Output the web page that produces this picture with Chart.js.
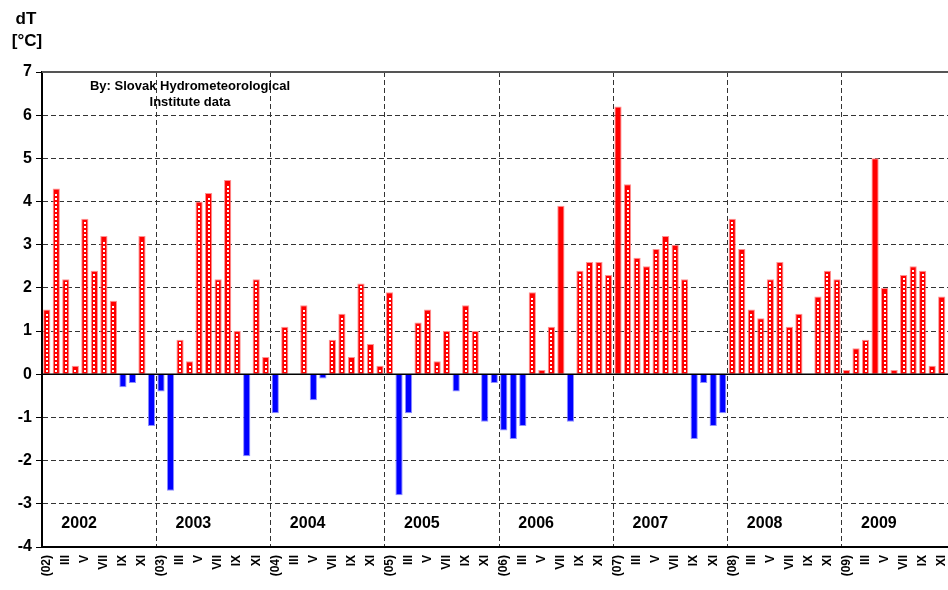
<!DOCTYPE html>
<html>
<head>
<meta charset="utf-8">
<script src="https://cdn.jsdelivr.net/npm/chart.js@4.4.1/dist/chart.umd.min.js"></script>
<style>
  html, body { margin: 0; padding: 0; background: #fff; overflow: hidden; }
  #wrap { width: 956px; height: 590px; }
</style>
</head>
<body>
<div id="wrap"><canvas id="chart" width="956" height="590"></canvas></div>
<script>
// monthly temperature deviation dT [°C], Jan..Dec
const years = [2002, 2003, 2004, 2005, 2006, 2007, 2008, 2009];
const monthLabels = ['', '', 'III', '', 'V', '', 'VII', '', 'IX', '', 'XI', ''];
const dT2002 = [1.5, 4.3, 2.2, 0.2, 3.6, 2.4, 3.2, 1.7, -0.3, -0.2, 3.2, -1.2];
const dT2003 = [-0.4, -2.7, 0.8, 0.3, 4.0, 4.2, 2.2, 4.5, 1.0, -1.9, 2.2, 0.4];
const dT2004 = [-0.9, 1.1, 0, 1.6, -0.6, -0.1, 0.8, 1.4, 0.4, 2.1, 0.7, 0.2];
const dT2005 = [1.9, -2.8, -0.9, 1.2, 1.5, 0.3, 1.0, -0.4, 1.6, 1.0, -1.1, -0.2];
const dT2006 = [-1.3, -1.5, -1.2, 1.9, 0.1, 1.1, 3.9, -1.1, 2.4, 2.6, 2.6, 2.3];
const dT2007 = [6.2, 4.4, 2.7, 2.5, 2.9, 3.2, 3.0, 2.2, -1.5, -0.2, -1.2, -0.9];
const dT2008 = [3.6, 2.9, 1.5, 1.3, 2.2, 2.6, 1.1, 1.4, 0, 1.8, 2.4, 2.2];
const dT2009 = [0.1, 0.6, 0.8, 5.0, 2.0, 0.1, 2.3, 2.5, 2.4, 0.2, 1.8, 0.8];

const values = [].concat(dT2002, dT2003, dT2004, dT2005, dT2006, dT2007, dT2008, dT2009);
const labels = [];
years.forEach(y => monthLabels.forEach((m, i) => labels.push(i === 0 ? '(' + String(y).slice(2) + ')' : m)));

// record months drawn without the dotted fill
const SOLID = new Set([54, 60, 87]);
const FONT = '"Liberation Sans", Arial, sans-serif';
const RED = '#ff0000';
const BLUE = '#0000ff';

const extras = {
  id: 'extras',
  afterDatasetsDraw(chart) {
    const ctx = chart.ctx;
    const area = chart.chartArea;
    const ys = chart.scales.y;
    const meta = chart.getDatasetMeta(0);
    ctx.save();
    // white dots down the middle of the red bars
    ctx.fillStyle = '#fff';
    meta.data.forEach((bar, i) => {
      if (values[i] <= 0 || SOLID.has(i)) return;
      const p = bar.getProps(['x', 'y', 'base'], true);
      const cx = Math.round(p.x) - 1;
      for (let yy = p.base - 4; yy >= p.y + 2; yy -= 4) {
        ctx.fillRect(cx, Math.round(yy), 2, 2);
      }
    });
    // zero line
    const y0 = ys.getPixelForValue(0);
    ctx.strokeStyle = '#000';
    ctx.lineWidth = 1.5;
    ctx.beginPath();
    ctx.moveTo(area.left, y0);
    ctx.lineTo(area.right, y0);
    ctx.stroke();
    // top frame
    const y7 = ys.getPixelForValue(7);
    ctx.strokeStyle = '#555';
    ctx.lineWidth = 2;
    ctx.beginPath();
    ctx.moveTo(area.left, y7);
    ctx.lineTo(area.right, y7);
    ctx.stroke();
    ctx.restore();
  },
  afterDraw(chart) {
    const ctx = chart.ctx;
    const xs = chart.scales.x;
    ctx.save();
    ctx.fillStyle = '#000';
    ctx.textAlign = 'center';
    ctx.textBaseline = 'middle';
    // year names inside the plot
    ctx.font = 'bold 16px ' + FONT;
    years.forEach((y, k) => {
      ctx.fillText(String(y), xs.getPixelForValue(k * 12 + 3.4), 524);
    });
    // source note
    ctx.font = 'bold 13px ' + FONT;
    ctx.fillText('By: Slovak Hydrometeorological', 190, 86);
    ctx.fillText('Institute data', 190, 102);
    // axis title
    ctx.font = 'bold 17px ' + FONT;
    ctx.fillText('dT', 26, 19);
    ctx.fillText('[°C]', 27, 41);
    ctx.restore();
  }
};

new Chart(document.getElementById('chart'), {
  type: 'bar',
  data: {
    labels: labels,
    datasets: [{
      data: values,
      backgroundColor: c => (values[c.dataIndex] < 0 ? BLUE : RED),
      borderColor: c => (values[c.dataIndex] < 0 ? 'rgba(130,130,255,0.9)' : 'rgba(255,140,140,0.95)'),
      borderWidth: 1,
      barPercentage: 0.76,
      categoryPercentage: 1.0
    }]
  },
  options: {
    responsive: false,
    animation: false,
    layout: { padding: { top: 72, right: 0, left: 0, bottom: 0 } },
    plugins: { legend: { display: false }, tooltip: { enabled: false } },
    scales: {
      x: {
        grid: {
          offset: true,
          drawTicks: false,
          lineWidth: 1,
          color: c => (c.index > 0 && c.index < 96 && c.index % 12 === 0) ? '#333' : 'rgba(0,0,0,0)'
        },
        border: { display: true, color: '#000', width: 2, dash: [5, 3] },
        ticks: {
          autoSkip: false,
          minRotation: 90,
          maxRotation: 90,
          padding: 8,
          color: '#000',
          font: { family: FONT, size: 12, weight: 'bold' }
        },
        afterFit: s => { s.height = 43; s.paddingLeft = 0; s.paddingRight = 0; }
      },
      y: {
        min: -4,
        max: 7,
        ticks: {
          stepSize: 1,
          padding: 4,
          color: '#000',
          font: { family: FONT, size: 16, weight: 'bold' }
        },
        grid: { color: '#333', lineWidth: 1, tickColor: '#000', tickLength: 6 },
        border: { display: true, color: '#000', width: 2, dash: [5, 3] },
        afterFit: s => { s.width = 42; s.paddingTop = 0; s.paddingBottom = 0; }
      }
    }
  },
  plugins: [extras]
});
</script>
</body>
</html>
